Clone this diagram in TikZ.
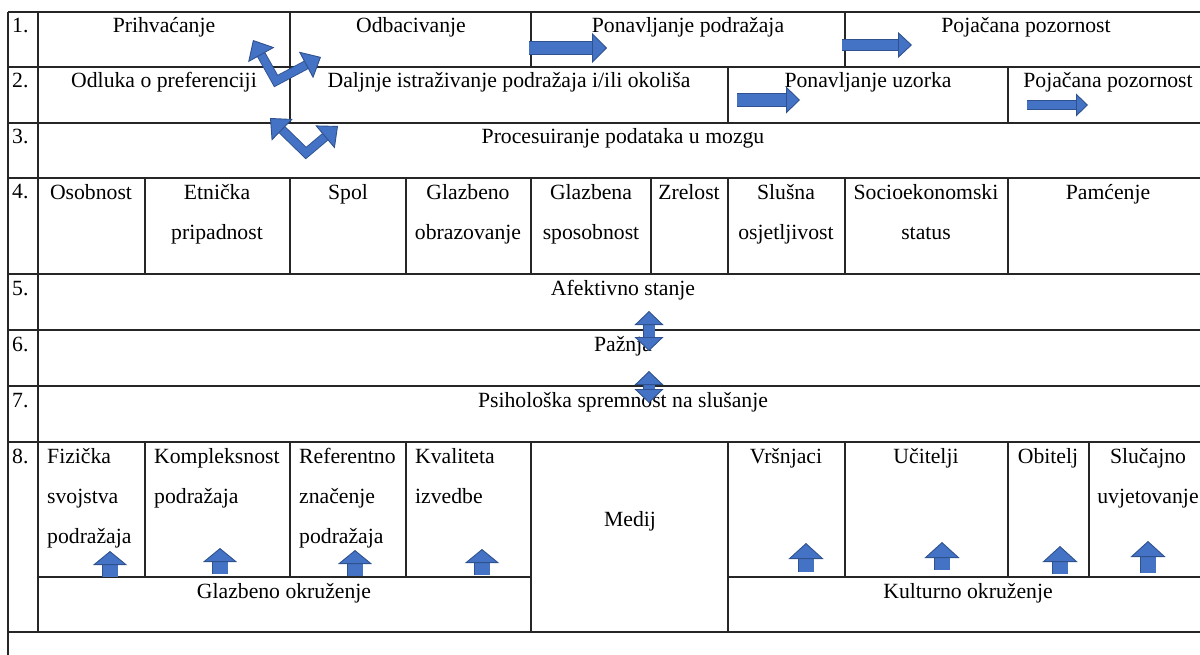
\documentclass[tikz,border=0pt]{standalone}
\usepackage{fontspec}
\setmainfont{Liberation Serif}
\usetikzlibrary{arrows.meta}
\definecolor{arrowfill}{HTML}{4472C4}
\definecolor{arrowedge}{HTML}{2F528F}

\begin{document}
\begin{tikzpicture}[x=1pt,y=-1pt,
  grid/.style={line width=1.2pt,black!85},
  txt/.style={font=\fontsize{21.7}{40}\selectfont,inner sep=0pt,anchor=base},
  twoline/.style={txt,align=center,anchor=north},
  leftcol/.style={txt,align=left,anchor=north west},
  blk/.style n args={3}{draw=arrowedge,line width=0.9pt,double=arrowfill,double distance=#1,line join=miter,
    -{Triangle[length=#2,width=#3,fill=arrowfill,line width=0.9pt]}},
  blkboth/.style n args={3}{draw=arrowedge,line width=0.9pt,double=arrowfill,double distance=#1,line join=miter,
    {Triangle[length=#2,width=#3,fill=arrowfill,line width=0.9pt]}-{Triangle[length=#2,width=#3,fill=arrowfill,line width=0.9pt]}}]
\useasboundingbox (0,0) rectangle (1200,655);

\draw[grid] (8,12) -- (1200,12);
\draw[grid] (8,67) -- (1200,67);
\draw[grid] (8,123) -- (1200,123);
\draw[grid] (8,178) -- (1200,178);
\draw[grid] (8,274) -- (1200,274);
\draw[grid] (8,330) -- (1200,330);
\draw[grid] (8,386) -- (1200,386);
\draw[grid] (8,442) -- (1200,442);
\draw[grid] (8,632) -- (1200,632);
\draw[grid] (38,577) -- (531,577);
\draw[grid] (728,577) -- (1200,577);
\draw[grid] (8,12) -- (8,655);
\draw[grid] (38,12) -- (38,632);
\draw[grid] (290,12) -- (290,123);
\draw[grid] (531,12) -- (531,67);
\draw[grid] (845,12) -- (845,67);
\draw[grid] (728,67) -- (728,123);
\draw[grid] (1008,67) -- (1008,123);
\draw[grid] (145,178) -- (145,274);
\draw[grid] (290,178) -- (290,274);
\draw[grid] (406,178) -- (406,274);
\draw[grid] (531,178) -- (531,274);
\draw[grid] (651,178) -- (651,274);
\draw[grid] (728,178) -- (728,274);
\draw[grid] (845,178) -- (845,274);
\draw[grid] (1008,178) -- (1008,274);
\draw[grid] (145,442) -- (145,577);
\draw[grid] (290,442) -- (290,577);
\draw[grid] (406,442) -- (406,577);
\draw[grid] (531,442) -- (531,632);
\draw[grid] (728,442) -- (728,632);
\draw[grid] (845,442) -- (845,577);
\draw[grid] (1008,442) -- (1008,577);
\draw[grid] (1089,442) -- (1089,577);

\node[txt,anchor=base west] (n1) at (12,33) {1.};
\node[txt,anchor=base west] (n2) at (12,88) {2.};
\node[txt,anchor=base west] (n3) at (12,144) {3.};
\node[txt,anchor=base west] (n4) at (12,199) {4.};
\node[txt,anchor=base west] (n5) at (12,295) {5.};
\node[txt,anchor=base west] (n6) at (12,351) {6.};
\node[txt,anchor=base west] (n7) at (12,407) {7.};
\node[txt,anchor=base west] (n8) at (12,463) {8.};

\node[txt] (prihv) at (164,33) {Prihvaćanje};
\node[txt] (odbac) at (411,33) {Odbacivanje};
\node[txt] (ponpod) at (688,33) {Ponavljanje podražaja};
\node[txt] (pojac) at (1026,33) {Pojačana pozornost};
\node[txt] (odluka) at (164,88) {Odluka o preferenciji};
\node[txt] (daljnje) at (509,88) {Daljnje istraživanje podražaja i/ili okoliša};
\node[txt] (ponuz) at (868,88) {Ponavljanje uzorka};
\node[txt] (pojacb) at (1108,88) {Pojačana pozornost};
\node[txt] (proces) at (623,144) {Procesuiranje podataka u mozgu};

\node[twoline] (osob) at (91,171) {\strut Osobnost};
\node[twoline] (etn) at (217,171) {\strut Etnička\\pripadnost};
\node[twoline] (spol) at (348,171) {\strut Spol};
\node[twoline] (gobr) at (468,171) {\strut Glazbeno\\obrazovanje};
\node[twoline] (gspos) at (591,171) {\strut Glazbena\\sposobnost};
\node[twoline] (zrel) at (689,171) {\strut Zrelost};
\node[twoline] (slus) at (786,171) {\strut Slušna\\osjetljivost};
\node[twoline] (socio) at (926,171) {\strut Socioekonomski\\status};
\node[twoline] (pamc) at (1108,171) {\strut Pamćenje};

\node[txt] (afekt) at (623,295) {Afektivno stanje};
\node[txt] (pazn) at (623,351) {Pažnja};
\node[txt] (psih) at (623,407) {Psihološka spremnost na slušanje};

\node[leftcol] (fiz) at (47,435) {\strut Fizička\\svojstva\\podražaja};
\node[leftcol] (kompl) at (154,435) {\strut Kompleksnost\\podražaja};
\node[leftcol] (ref) at (299,435) {\strut Referentno\\značenje\\podražaja};
\node[leftcol] (kval) at (415,435) {\strut Kvaliteta\\izvedbe};
\node[txt] (medij) at (630,526) {Medij};
\node[twoline] (vrsn) at (786,435) {\strut Vršnjaci};
\node[twoline] (ucit) at (926,435) {\strut Učitelji};
\node[twoline] (obit) at (1048,435) {\strut Obitelj};
\node[twoline] (sluc) at (1148,435) {\strut Slučajno\\uvjetovanje};
\node[txt] (glazok) at (284,598) {Glazbeno okruženje};
\node[txt] (kultok) at (968,598) {Kulturno okruženje};

\coordinate (b1l) at (253,40);
\coordinate (b1v) at (276,81);
\coordinate (b1r) at (321,57);
\coordinate (b2l) at (270,118);
\coordinate (b2v) at (306,153);
\coordinate (b2r) at (338,126);
\draw[blkboth={7.5pt}{17pt}{30pt}] (b1l) -- (b1v) -- (b1r);
\draw[blkboth={7.5pt}{17pt}{30pt}] (b2l) -- (b2v) -- (b2r);

\coordinate (r1s) at (529,48);
\coordinate (r1e) at (607,48);
\coordinate (r2s) at (842,45);
\coordinate (r2e) at (912,45);
\coordinate (r3s) at (737,100);
\coordinate (r3e) at (800,100);
\coordinate (r4s) at (1027,105);
\coordinate (r4e) at (1088,105);
\draw[blk={12pt}{15pt}{30pt}] (r1s) -- (r1e);
\draw[blk={10.5pt}{14pt}{26pt}] (r2s) -- (r2e);
\draw[blk={11.5pt}{14pt}{27pt}] (r3s) -- (r3e);
\draw[blk={8.5pt}{12pt}{23pt}] (r4s) -- (r4e);

\coordinate (d1t) at (649,311);
\coordinate (d1b) at (649,351);
\coordinate (d2t) at (649,371);
\coordinate (d2b) at (649,403);
\draw[blkboth={11pt}{14pt}{29pt}] (d1t) -- (d1b);
\draw[blkboth={11pt}{14pt}{29pt}] (d2t) -- (d2b);

\coordinate (u1s) at (110,577);
\coordinate (u1e) at (110,551);
\coordinate (u2s) at (220,574);
\coordinate (u2e) at (220,548);
\coordinate (u3s) at (355,576);
\coordinate (u3e) at (355,550);
\coordinate (u4s) at (482,575);
\coordinate (u4e) at (482,549);
\coordinate (u5s) at (806,572);
\coordinate (u5e) at (806,543);
\coordinate (u6s) at (942,570);
\coordinate (u6e) at (942,542);
\coordinate (u7s) at (1060,574);
\coordinate (u7e) at (1060,546);
\coordinate (u8s) at (1148,573);
\coordinate (u8e) at (1148,541);
\draw[blk={15pt}{14pt}{34pt}] (u1s) -- (u1e);
\draw[blk={15pt}{14pt}{34pt}] (u2s) -- (u2e);
\draw[blk={15pt}{14pt}{34pt}] (u3s) -- (u3e);
\draw[blk={15pt}{14pt}{34pt}] (u4s) -- (u4e);
\draw[blk={15pt}{16pt}{35pt}] (u5s) -- (u5e);
\draw[blk={15pt}{16pt}{35pt}] (u6s) -- (u6e);
\draw[blk={15pt}{16pt}{35pt}] (u7s) -- (u7e);
\draw[blk={15pt}{16pt}{35pt}] (u8s) -- (u8e);
\end{tikzpicture}
\end{document}
